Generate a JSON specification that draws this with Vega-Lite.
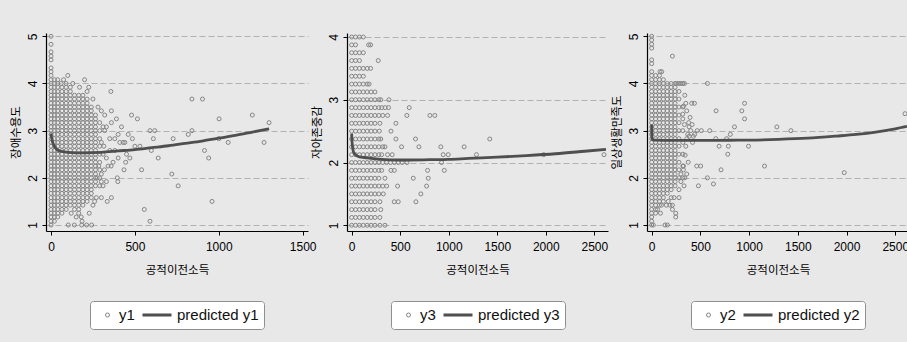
{
"$schema": "https://vega.github.io/schema/vega-lite/v6.json",
"background": "#e8e8e8",
"padding": {"left": 10, "top": 32, "right": 0, "bottom": 12},
"autosize": {"type": "pad"},
"spacing": 39,
"bounds": "flush",
"datasets": {
"a": [
{"x":0,"y":1},{"x":0,"y":1.08},{"x":0,"y":1.17},{"x":0,"y":1.25},{"x":0,"y":1.33},{"x":0,"y":1.42},{"x":0,"y":1.5},{"x":0,"y":1.58},{"x":0,"y":1.67},{"x":0,"y":1.75},{"x":0,"y":1.83},{"x":0,"y":1.92},{"x":0,"y":2},{"x":0,"y":2.08},{"x":0,"y":2.17},{"x":0,"y":2.25},{"x":0,"y":2.33},{"x":0,"y":2.42},{"x":0,"y":2.5},{"x":0,"y":2.58},{"x":0,"y":2.67},{"x":0,"y":2.75},{"x":0,"y":2.83},{"x":0,"y":2.92},{"x":0,"y":3},{"x":0,"y":3.08},{"x":0,"y":3.17},{"x":0,"y":3.25},{"x":0,"y":3.33},{"x":0,"y":3.42},{"x":0,"y":3.5},{"x":0,"y":3.58},{"x":0,"y":3.67},{"x":0,"y":3.75},{"x":0,"y":3.83},{"x":0,"y":3.92},{"x":0,"y":4},{"x":0,"y":4.08},{"x":0,"y":4.17},{"x":0,"y":4.25},{"x":0,"y":4.33},{"x":0,"y":4.5},{"x":0,"y":4.58},{"x":0,"y":4.67},{"x":0,"y":4.83},{"x":0,"y":5},
{"x":20,"y":1.08},{"x":20,"y":1.17},{"x":20,"y":1.25},{"x":20,"y":1.33},{"x":20,"y":1.42},{"x":20,"y":1.5},{"x":20,"y":1.58},{"x":20,"y":1.67},{"x":20,"y":1.75},{"x":20,"y":1.83},{"x":20,"y":1.92},{"x":20,"y":2},{"x":20,"y":2.08},{"x":20,"y":2.17},{"x":20,"y":2.25},{"x":20,"y":2.33},{"x":20,"y":2.42},{"x":20,"y":2.5},{"x":20,"y":2.58},{"x":20,"y":2.67},{"x":20,"y":2.75},{"x":20,"y":2.83},{"x":20,"y":2.92},{"x":20,"y":3},{"x":20,"y":3.08},{"x":20,"y":3.17},{"x":20,"y":3.25},{"x":20,"y":3.33},{"x":20,"y":3.42},{"x":20,"y":3.5},{"x":20,"y":3.58},{"x":20,"y":3.67},{"x":20,"y":3.75},{"x":20,"y":3.83},{"x":20,"y":3.92},{"x":20,"y":4},{"x":20,"y":4.08},
{"x":40,"y":1.17},{"x":40,"y":1.25},{"x":40,"y":1.33},{"x":40,"y":1.42},{"x":40,"y":1.5},{"x":40,"y":1.58},{"x":40,"y":1.67},{"x":40,"y":1.75},{"x":40,"y":1.83},{"x":40,"y":1.92},{"x":40,"y":2},{"x":40,"y":2.08},{"x":40,"y":2.17},{"x":40,"y":2.25},{"x":40,"y":2.33},{"x":40,"y":2.42},{"x":40,"y":2.5},{"x":40,"y":2.58},{"x":40,"y":2.67},{"x":40,"y":2.75},{"x":40,"y":2.83},{"x":40,"y":2.92},{"x":40,"y":3},{"x":40,"y":3.08},{"x":40,"y":3.17},{"x":40,"y":3.25},{"x":40,"y":3.33},{"x":40,"y":3.42},{"x":40,"y":3.5},{"x":40,"y":3.58},{"x":40,"y":3.67},{"x":40,"y":3.75},{"x":40,"y":3.83},{"x":40,"y":3.92},{"x":40,"y":4},{"x":40,"y":4.08},
{"x":65,"y":1.25},{"x":65,"y":1.33},{"x":65,"y":1.42},{"x":65,"y":1.5},{"x":65,"y":1.58},{"x":65,"y":1.67},{"x":65,"y":1.75},{"x":65,"y":1.83},{"x":65,"y":1.92},{"x":65,"y":2},{"x":65,"y":2.08},{"x":65,"y":2.17},{"x":65,"y":2.25},{"x":65,"y":2.33},{"x":65,"y":2.42},{"x":65,"y":2.5},{"x":65,"y":2.58},{"x":65,"y":2.67},{"x":65,"y":2.75},{"x":65,"y":2.83},{"x":65,"y":2.92},{"x":65,"y":3},{"x":65,"y":3.08},{"x":65,"y":3.17},{"x":65,"y":3.25},{"x":65,"y":3.33},{"x":65,"y":3.42},{"x":65,"y":3.5},{"x":65,"y":3.58},{"x":65,"y":3.67},{"x":65,"y":3.75},{"x":65,"y":3.83},{"x":65,"y":3.92},
{"x":90,"y":1.33},{"x":90,"y":1.42},{"x":90,"y":1.5},{"x":90,"y":1.58},{"x":90,"y":1.67},{"x":90,"y":1.75},{"x":90,"y":1.83},{"x":90,"y":1.92},{"x":90,"y":2},{"x":90,"y":2.08},{"x":90,"y":2.17},{"x":90,"y":2.25},{"x":90,"y":2.33},{"x":90,"y":2.42},{"x":90,"y":2.5},{"x":90,"y":2.58},{"x":90,"y":2.67},{"x":90,"y":2.75},{"x":90,"y":2.83},{"x":90,"y":2.92},{"x":90,"y":3},{"x":90,"y":3.08},{"x":90,"y":3.17},{"x":90,"y":3.25},{"x":90,"y":3.33},{"x":90,"y":3.42},{"x":90,"y":3.5},{"x":90,"y":3.58},{"x":90,"y":3.67},{"x":90,"y":3.75},{"x":90,"y":3.83},{"x":90,"y":3.92},{"x":90,"y":4},
{"x":115,"y":1.42},{"x":115,"y":1.5},{"x":115,"y":1.58},{"x":115,"y":1.67},{"x":115,"y":1.75},{"x":115,"y":1.83},{"x":115,"y":1.92},{"x":115,"y":2},{"x":115,"y":2.08},{"x":115,"y":2.17},{"x":115,"y":2.25},{"x":115,"y":2.33},{"x":115,"y":2.42},{"x":115,"y":2.5},{"x":115,"y":2.58},{"x":115,"y":2.67},{"x":115,"y":2.75},{"x":115,"y":2.83},{"x":115,"y":2.92},{"x":115,"y":3},{"x":115,"y":3.08},{"x":115,"y":3.17},{"x":115,"y":3.25},{"x":115,"y":3.33},{"x":115,"y":3.42},{"x":115,"y":3.5},{"x":115,"y":3.58},{"x":115,"y":3.67},{"x":115,"y":3.75},{"x":115,"y":3.83},{"x":115,"y":3.92},
{"x":140,"y":1.33},{"x":140,"y":1.42},{"x":140,"y":1.5},{"x":140,"y":1.58},{"x":140,"y":1.67},{"x":140,"y":1.75},{"x":140,"y":1.83},{"x":140,"y":1.92},{"x":140,"y":2},{"x":140,"y":2.08},{"x":140,"y":2.17},{"x":140,"y":2.25},{"x":140,"y":2.33},{"x":140,"y":2.42},{"x":140,"y":2.5},{"x":140,"y":2.58},{"x":140,"y":2.67},{"x":140,"y":2.75},{"x":140,"y":2.83},{"x":140,"y":2.92},{"x":140,"y":3},{"x":140,"y":3.08},{"x":140,"y":3.17},{"x":140,"y":3.25},{"x":140,"y":3.33},{"x":140,"y":3.42},{"x":140,"y":3.5},{"x":140,"y":3.58},{"x":140,"y":3.67},{"x":140,"y":3.75},
{"x":165,"y":1.25},{"x":165,"y":1.33},{"x":165,"y":1.42},{"x":165,"y":1.5},{"x":165,"y":1.58},{"x":165,"y":1.67},{"x":165,"y":1.75},{"x":165,"y":1.83},{"x":165,"y":1.92},{"x":165,"y":2},{"x":165,"y":2.08},{"x":165,"y":2.17},{"x":165,"y":2.25},{"x":165,"y":2.33},{"x":165,"y":2.42},{"x":165,"y":2.5},{"x":165,"y":2.58},{"x":165,"y":2.67},{"x":165,"y":2.75},{"x":165,"y":2.83},{"x":165,"y":2.92},{"x":165,"y":3},{"x":165,"y":3.08},{"x":165,"y":3.17},{"x":165,"y":3.25},{"x":165,"y":3.33},{"x":165,"y":3.42},{"x":165,"y":3.5},{"x":165,"y":3.58},{"x":165,"y":3.67},{"x":165,"y":3.75},
{"x":190,"y":1.42},{"x":190,"y":1.5},{"x":190,"y":1.58},{"x":190,"y":1.67},{"x":190,"y":1.75},{"x":190,"y":1.83},{"x":190,"y":1.92},{"x":190,"y":2},{"x":190,"y":2.08},{"x":190,"y":2.17},{"x":190,"y":2.25},{"x":190,"y":2.33},{"x":190,"y":2.42},{"x":190,"y":2.5},{"x":190,"y":2.58},{"x":190,"y":2.67},{"x":190,"y":2.75},{"x":190,"y":2.83},{"x":190,"y":2.92},{"x":190,"y":3},{"x":190,"y":3.08},{"x":190,"y":3.17},{"x":190,"y":3.25},{"x":190,"y":3.33},{"x":190,"y":3.42},{"x":190,"y":3.5},{"x":190,"y":3.58},{"x":190,"y":3.67},{"x":190,"y":3.75},
{"x":215,"y":1.5},{"x":215,"y":1.58},{"x":215,"y":1.67},{"x":215,"y":1.75},{"x":215,"y":1.83},{"x":215,"y":1.92},{"x":215,"y":2},{"x":215,"y":2.08},{"x":215,"y":2.17},{"x":215,"y":2.25},{"x":215,"y":2.33},{"x":215,"y":2.42},{"x":215,"y":2.5},{"x":215,"y":2.58},{"x":215,"y":2.67},{"x":215,"y":2.75},{"x":215,"y":2.83},{"x":215,"y":2.92},{"x":215,"y":3},{"x":215,"y":3.08},{"x":215,"y":3.17},{"x":215,"y":3.25},{"x":215,"y":3.33},{"x":215,"y":3.42},{"x":215,"y":3.5},{"x":215,"y":3.58},{"x":215,"y":3.67},
{"x":240,"y":1.58},{"x":240,"y":1.67},{"x":240,"y":1.75},{"x":240,"y":1.83},{"x":240,"y":1.92},{"x":240,"y":2},{"x":240,"y":2.08},{"x":240,"y":2.17},{"x":240,"y":2.25},{"x":240,"y":2.33},{"x":240,"y":2.42},{"x":240,"y":2.5},{"x":240,"y":2.58},{"x":240,"y":2.67},{"x":240,"y":2.75},{"x":240,"y":2.83},{"x":240,"y":2.92},{"x":240,"y":3},{"x":240,"y":3.08},{"x":240,"y":3.17},{"x":240,"y":3.25},{"x":240,"y":3.33},{"x":240,"y":3.42},{"x":240,"y":3.5},
{"x":265,"y":1.83},{"x":265,"y":1.92},{"x":265,"y":2},{"x":265,"y":2.08},{"x":265,"y":2.17},{"x":265,"y":2.25},{"x":265,"y":2.33},{"x":265,"y":2.42},{"x":265,"y":2.5},{"x":265,"y":2.58},{"x":265,"y":2.67},{"x":265,"y":2.75},{"x":265,"y":2.83},{"x":265,"y":2.92},{"x":265,"y":3},{"x":265,"y":3.08},{"x":265,"y":3.17},{"x":265,"y":3.25},{"x":265,"y":3.33},
{"x":290,"y":1.83},{"x":290,"y":2},{"x":290,"y":2.17},{"x":290,"y":2.33},{"x":290,"y":2.5},{"x":290,"y":2.67},{"x":290,"y":2.83},{"x":290,"y":3},{"x":290,"y":3.17},
{"x":100,"y":4.17},{"x":200,"y":4.08},{"x":225,"y":3.92},{"x":357,"y":3.83},{"x":840,"y":3.67},{"x":903,"y":3.67},{"x":480,"y":3.33},{"x":515,"y":3.25},{"x":360,"y":3.42},{"x":360,"y":3.17},{"x":390,"y":3.25},{"x":1002,"y":3.25},{"x":1200,"y":3.33},{"x":1300,"y":3.17},{"x":1270,"y":2.75},{"x":1056,"y":2.75},{"x":1000,"y":2.83},{"x":915,"y":2.58},{"x":940,"y":2.42},{"x":960,"y":1.5},{"x":840,"y":3},{"x":818,"y":2.92},{"x":728,"y":2.83},{"x":720,"y":2.08},{"x":758,"y":1.83},{"x":556,"y":1.33},{"x":590,"y":1.08},{"x":590,"y":3},{"x":618,"y":3},{"x":610,"y":2.83},{"x":639,"y":2.42},{"x":598,"y":2.58},{"x":540,"y":2.17},{"x":500,"y":2.67},{"x":530,"y":2.67},{"x":460,"y":2.92},{"x":485,"y":2.83},{"x":450,"y":2.5},{"x":445,"y":2.33},{"x":435,"y":2.17},{"x":395,"y":2},{"x":398,"y":1.92},{"x":360,"y":1.58},{"x":335,"y":1.5},{"x":300,"y":1.58},{"x":228,"y":1.25},{"x":103,"y":1},{"x":139,"y":1},{"x":183,"y":1},{"x":212,"y":1},{"x":242,"y":1},{"x":180,"y":1.17},{"x":185,"y":1.08},{"x":358,"y":2.25},{"x":318,"y":2.17},{"x":310,"y":3.08},{"x":320,"y":3},{"x":350,"y":2.83},{"x":380,"y":2.83},{"x":410,"y":2.75},{"x":430,"y":2.75},{"x":380,"y":2.58},{"x":330,"y":2.42},{"x":315,"y":2.67},{"x":400,"y":2.92},{"x":420,"y":3.08},{"x":340,"y":2.25},{"x":300,"y":2.08},{"x":330,"y":1.92},{"x":310,"y":1.83},{"x":270,"y":1.58},{"x":260,"y":1.5},{"x":250,"y":1.42},{"x":150,"y":1.17},{"x":120,"y":1.25},{"x":280,"y":3.5},{"x":300,"y":3.42},{"x":320,"y":3.33},{"x":250,"y":3.67},{"x":215,"y":3.83},{"x":170,"y":3.92},{"x":130,"y":4},{"x":75,"y":4.08},{"x":60,"y":4},{"x":400,"y":2.42},{"x":350,"y":2.58},{"x":440,"y":2.75},{"x":370,"y":2.33},{"x":470,"y":2.42},{"x":330,"y":3.08},{"x":300,"y":2.75},{"x":310,"y":2.5},{"x":285,"y":2.25},{"x":275,"y":2},{"x":300,"y":1.92}
],
"b": [
{"x":0,"y":1},{"x":40,"y":1},{"x":80,"y":1},{"x":120,"y":1},{"x":160,"y":1},{"x":200,"y":1},{"x":240,"y":1},{"x":291,"y":1},{"x":343,"y":1},
{"x":0,"y":1.125},{"x":40,"y":1.125},{"x":80,"y":1.125},{"x":120,"y":1.125},{"x":160,"y":1.125},{"x":200,"y":1.125},{"x":240,"y":1.125},{"x":291,"y":1.125},
{"x":0,"y":1.25},{"x":40,"y":1.25},{"x":80,"y":1.25},{"x":120,"y":1.25},{"x":160,"y":1.25},{"x":200,"y":1.25},{"x":240,"y":1.25},{"x":300,"y":1.25},
{"x":0,"y":1.375},{"x":40,"y":1.375},{"x":80,"y":1.375},{"x":120,"y":1.375},{"x":160,"y":1.375},{"x":200,"y":1.375},{"x":240,"y":1.375},{"x":291,"y":1.375},{"x":439,"y":1.375},{"x":480,"y":1.375},{"x":662,"y":1.375},
{"x":0,"y":1.5},{"x":40,"y":1.5},{"x":80,"y":1.5},{"x":120,"y":1.5},{"x":160,"y":1.5},{"x":200,"y":1.5},{"x":240,"y":1.5},{"x":280,"y":1.5},{"x":326,"y":1.5},{"x":713,"y":1.5},
{"x":0,"y":1.625},{"x":40,"y":1.625},{"x":80,"y":1.625},{"x":120,"y":1.625},{"x":160,"y":1.625},{"x":200,"y":1.625},{"x":240,"y":1.625},{"x":280,"y":1.625},{"x":320,"y":1.625},{"x":360,"y":1.625},{"x":473,"y":1.625},{"x":772,"y":1.625},
{"x":0,"y":1.75},{"x":40,"y":1.75},{"x":80,"y":1.75},{"x":120,"y":1.75},{"x":160,"y":1.75},{"x":200,"y":1.75},{"x":240,"y":1.75},{"x":280,"y":1.75},{"x":343,"y":1.75},{"x":635,"y":1.75},{"x":789,"y":1.75},
{"x":0,"y":1.875},{"x":40,"y":1.875},{"x":80,"y":1.875},{"x":120,"y":1.875},{"x":160,"y":1.875},{"x":200,"y":1.875},{"x":240,"y":1.875},{"x":280,"y":1.875},{"x":309,"y":1.875},{"x":405,"y":1.875},{"x":439,"y":1.875},{"x":782,"y":1.875},{"x":954,"y":1.875},
{"x":0,"y":2},{"x":40,"y":2},{"x":80,"y":2},{"x":120,"y":2},{"x":160,"y":2},{"x":200,"y":2},{"x":240,"y":2},{"x":280,"y":2},{"x":320,"y":2},{"x":360,"y":2},{"x":400,"y":2},{"x":440,"y":2},{"x":480,"y":2},{"x":520,"y":2},{"x":570,"y":2},{"x":926,"y":2},
{"x":0,"y":2.125},{"x":40,"y":2.125},{"x":80,"y":2.125},{"x":120,"y":2.125},{"x":160,"y":2.125},{"x":200,"y":2.125},{"x":240,"y":2.125},{"x":280,"y":2.125},{"x":309,"y":2.125},{"x":370,"y":2.125},{"x":418,"y":2.125},{"x":943,"y":2.125},{"x":995,"y":2.125},{"x":1286,"y":2.125},{"x":1978,"y":2.125},{"x":2600,"y":2.125},
{"x":0,"y":2.25},{"x":40,"y":2.25},{"x":80,"y":2.25},{"x":120,"y":2.25},{"x":160,"y":2.25},{"x":200,"y":2.25},{"x":240,"y":2.25},{"x":280,"y":2.25},{"x":320,"y":2.25},{"x":343,"y":2.25},{"x":514,"y":2.25},{"x":693,"y":2.25},{"x":919,"y":2.25},{"x":1159,"y":2.25},
{"x":0,"y":2.375},{"x":40,"y":2.375},{"x":80,"y":2.375},{"x":120,"y":2.375},{"x":160,"y":2.375},{"x":200,"y":2.375},{"x":240,"y":2.375},{"x":280,"y":2.375},{"x":300,"y":2.375},{"x":456,"y":2.375},{"x":658,"y":2.375},{"x":1423,"y":2.375},
{"x":0,"y":2.5},{"x":40,"y":2.5},{"x":80,"y":2.5},{"x":120,"y":2.5},{"x":160,"y":2.5},{"x":200,"y":2.5},{"x":240,"y":2.5},{"x":285,"y":2.5},{"x":405,"y":2.5},
{"x":0,"y":2.625},{"x":40,"y":2.625},{"x":80,"y":2.625},{"x":120,"y":2.625},{"x":160,"y":2.625},{"x":200,"y":2.625},{"x":240,"y":2.625},{"x":291,"y":2.625},{"x":456,"y":2.625},
{"x":0,"y":2.75},{"x":40,"y":2.75},{"x":80,"y":2.75},{"x":120,"y":2.75},{"x":160,"y":2.75},{"x":200,"y":2.75},{"x":240,"y":2.75},{"x":280,"y":2.75},{"x":320,"y":2.75},{"x":370,"y":2.75},{"x":569,"y":2.75},{"x":806,"y":2.75},{"x":857,"y":2.75},
{"x":0,"y":2.875},{"x":40,"y":2.875},{"x":80,"y":2.875},{"x":120,"y":2.875},{"x":160,"y":2.875},{"x":200,"y":2.875},{"x":240,"y":2.875},{"x":280,"y":2.875},{"x":310,"y":2.875},{"x":345,"y":2.875},{"x":380,"y":2.875},{"x":593,"y":2.875},
{"x":0,"y":3},{"x":40,"y":3},{"x":80,"y":3},{"x":120,"y":3},{"x":160,"y":3},{"x":200,"y":3},{"x":240,"y":3},{"x":280,"y":3},{"x":300,"y":3},{"x":384,"y":3},
{"x":0,"y":3.125},{"x":40,"y":3.125},{"x":80,"y":3.125},{"x":120,"y":3.125},{"x":160,"y":3.125},{"x":200,"y":3.125},{"x":240,"y":3.125},
{"x":0,"y":3.25},{"x":40,"y":3.25},{"x":80,"y":3.25},{"x":120,"y":3.25},{"x":160,"y":3.25},{"x":180,"y":3.25},
{"x":0,"y":3.375},{"x":40,"y":3.375},{"x":80,"y":3.375},{"x":120,"y":3.375},
{"x":0,"y":3.5},{"x":40,"y":3.5},{"x":80,"y":3.5},{"x":120,"y":3.5},{"x":160,"y":3.5},{"x":195,"y":3.5},
{"x":0,"y":3.625},{"x":40,"y":3.625},{"x":80,"y":3.625},{"x":274,"y":3.625},
{"x":0,"y":3.75},{"x":40,"y":3.75},{"x":80,"y":3.75},{"x":120,"y":3.75},
{"x":0,"y":3.875},{"x":40,"y":3.875},{"x":175,"y":3.875},{"x":195,"y":3.875},
{"x":0,"y":4},{"x":40,"y":4},{"x":80,"y":4},{"x":120,"y":4}
],
"c": [
{"x":0,"y":1},{"x":0,"y":1.08},{"x":0,"y":1.17},{"x":0,"y":1.25},{"x":0,"y":1.33},{"x":0,"y":1.42},{"x":0,"y":1.5},{"x":0,"y":1.58},{"x":0,"y":1.67},{"x":0,"y":1.75},{"x":0,"y":1.83},{"x":0,"y":1.92},{"x":0,"y":2},{"x":0,"y":2.08},{"x":0,"y":2.17},{"x":0,"y":2.25},{"x":0,"y":2.33},{"x":0,"y":2.42},{"x":0,"y":2.5},{"x":0,"y":2.58},{"x":0,"y":2.67},{"x":0,"y":2.75},{"x":0,"y":2.83},{"x":0,"y":2.92},{"x":0,"y":3},{"x":0,"y":3.08},{"x":0,"y":3.17},{"x":0,"y":3.25},{"x":0,"y":3.33},{"x":0,"y":3.42},{"x":0,"y":3.5},{"x":0,"y":3.58},{"x":0,"y":3.67},{"x":0,"y":3.75},{"x":0,"y":3.83},{"x":0,"y":3.92},{"x":0,"y":4},{"x":0,"y":4.08},{"x":0,"y":4.17},{"x":0,"y":4.25},{"x":0,"y":4.42},{"x":0,"y":4.5},{"x":0,"y":4.75},{"x":0,"y":4.83},{"x":0,"y":4.92},{"x":0,"y":5},
{"x":40,"y":1.25},{"x":40,"y":1.33},{"x":40,"y":1.42},{"x":40,"y":1.5},{"x":40,"y":1.58},{"x":40,"y":1.67},{"x":40,"y":1.75},{"x":40,"y":1.83},{"x":40,"y":1.92},{"x":40,"y":2},{"x":40,"y":2.08},{"x":40,"y":2.17},{"x":40,"y":2.25},{"x":40,"y":2.33},{"x":40,"y":2.42},{"x":40,"y":2.5},{"x":40,"y":2.58},{"x":40,"y":2.67},{"x":40,"y":2.75},{"x":40,"y":2.83},{"x":40,"y":2.92},{"x":40,"y":3},{"x":40,"y":3.08},{"x":40,"y":3.17},{"x":40,"y":3.25},{"x":40,"y":3.33},{"x":40,"y":3.42},{"x":40,"y":3.5},{"x":40,"y":3.58},{"x":40,"y":3.67},{"x":40,"y":3.75},{"x":40,"y":3.83},{"x":40,"y":3.92},{"x":40,"y":4},{"x":40,"y":4.08},{"x":40,"y":4.17},
{"x":80,"y":1.42},{"x":80,"y":1.5},{"x":80,"y":1.58},{"x":80,"y":1.67},{"x":80,"y":1.75},{"x":80,"y":1.83},{"x":80,"y":1.92},{"x":80,"y":2},{"x":80,"y":2.08},{"x":80,"y":2.17},{"x":80,"y":2.25},{"x":80,"y":2.33},{"x":80,"y":2.42},{"x":80,"y":2.5},{"x":80,"y":2.58},{"x":80,"y":2.67},{"x":80,"y":2.75},{"x":80,"y":2.83},{"x":80,"y":2.92},{"x":80,"y":3},{"x":80,"y":3.08},{"x":80,"y":3.17},{"x":80,"y":3.25},{"x":80,"y":3.33},{"x":80,"y":3.42},{"x":80,"y":3.5},{"x":80,"y":3.58},{"x":80,"y":3.67},{"x":80,"y":3.75},{"x":80,"y":3.83},{"x":80,"y":3.92},{"x":80,"y":4},{"x":80,"y":4.08},{"x":80,"y":4.17},
{"x":120,"y":1.58},{"x":120,"y":1.67},{"x":120,"y":1.75},{"x":120,"y":1.83},{"x":120,"y":1.92},{"x":120,"y":2},{"x":120,"y":2.08},{"x":120,"y":2.17},{"x":120,"y":2.25},{"x":120,"y":2.33},{"x":120,"y":2.42},{"x":120,"y":2.5},{"x":120,"y":2.58},{"x":120,"y":2.67},{"x":120,"y":2.75},{"x":120,"y":2.83},{"x":120,"y":2.92},{"x":120,"y":3},{"x":120,"y":3.08},{"x":120,"y":3.17},{"x":120,"y":3.25},{"x":120,"y":3.33},{"x":120,"y":3.42},{"x":120,"y":3.5},{"x":120,"y":3.58},{"x":120,"y":3.67},{"x":120,"y":3.75},{"x":120,"y":3.83},{"x":120,"y":3.92},{"x":120,"y":4},{"x":120,"y":4.08},
{"x":160,"y":1.67},{"x":160,"y":1.75},{"x":160,"y":1.83},{"x":160,"y":1.92},{"x":160,"y":2},{"x":160,"y":2.08},{"x":160,"y":2.17},{"x":160,"y":2.25},{"x":160,"y":2.33},{"x":160,"y":2.42},{"x":160,"y":2.5},{"x":160,"y":2.58},{"x":160,"y":2.67},{"x":160,"y":2.75},{"x":160,"y":2.83},{"x":160,"y":2.92},{"x":160,"y":3},{"x":160,"y":3.08},{"x":160,"y":3.17},{"x":160,"y":3.25},{"x":160,"y":3.33},{"x":160,"y":3.42},{"x":160,"y":3.5},{"x":160,"y":3.58},{"x":160,"y":3.67},{"x":160,"y":3.75},{"x":160,"y":3.83},{"x":160,"y":3.92},{"x":160,"y":4},
{"x":200,"y":1.75},{"x":200,"y":1.83},{"x":200,"y":1.92},{"x":200,"y":2},{"x":200,"y":2.08},{"x":200,"y":2.17},{"x":200,"y":2.25},{"x":200,"y":2.33},{"x":200,"y":2.42},{"x":200,"y":2.5},{"x":200,"y":2.58},{"x":200,"y":2.67},{"x":200,"y":2.75},{"x":200,"y":2.83},{"x":200,"y":2.92},{"x":200,"y":3},{"x":200,"y":3.08},{"x":200,"y":3.17},{"x":200,"y":3.25},{"x":200,"y":3.33},{"x":200,"y":3.42},{"x":200,"y":3.5},{"x":200,"y":3.58},{"x":200,"y":3.67},{"x":200,"y":3.75},{"x":200,"y":3.83},{"x":200,"y":3.92},{"x":200,"y":4},
{"x":240,"y":1.83},{"x":240,"y":1.92},{"x":240,"y":2},{"x":240,"y":2.08},{"x":240,"y":2.17},{"x":240,"y":2.25},{"x":240,"y":2.33},{"x":240,"y":2.42},{"x":240,"y":2.5},{"x":240,"y":2.58},{"x":240,"y":2.67},{"x":240,"y":2.75},{"x":240,"y":2.83},{"x":240,"y":2.92},{"x":240,"y":3},{"x":240,"y":3.08},{"x":240,"y":3.17},{"x":240,"y":3.25},{"x":240,"y":3.33},{"x":240,"y":3.42},{"x":240,"y":3.5},{"x":240,"y":3.58},{"x":240,"y":3.67},{"x":240,"y":3.75},{"x":240,"y":3.83},{"x":240,"y":3.92},{"x":240,"y":4},
{"x":280,"y":2},{"x":280,"y":2.17},{"x":280,"y":2.33},{"x":280,"y":2.5},{"x":280,"y":2.67},{"x":280,"y":2.83},{"x":280,"y":3},{"x":280,"y":3.17},{"x":280,"y":3.33},{"x":280,"y":3.5},{"x":280,"y":3.67},{"x":280,"y":3.83},{"x":280,"y":4},
{"x":320,"y":2},{"x":320,"y":2.25},{"x":320,"y":2.5},{"x":320,"y":2.75},{"x":320,"y":3},{"x":320,"y":3.25},{"x":320,"y":3.5},{"x":320,"y":4},
{"x":103,"y":4.25},{"x":85,"y":4.25},{"x":213,"y":4.58},{"x":572,"y":4},{"x":411,"y":3.58},{"x":439,"y":3.58},{"x":953,"y":3.58},{"x":953,"y":3.25},{"x":925,"y":3.42},{"x":661,"y":3.42},{"x":850,"y":3.08},{"x":1285,"y":3.08},{"x":1429,"y":3},{"x":2600,"y":3.36},{"x":1976,"y":2.11},{"x":1158,"y":2.25},{"x":994,"y":2.67},{"x":787,"y":2.67},{"x":807,"y":2.92},{"x":781,"y":2.5},{"x":712,"y":2.17},{"x":634,"y":1.87},{"x":480,"y":1.83},{"x":572,"y":2},{"x":462,"y":2.25},{"x":503,"y":2.25},{"x":658,"y":2.83},{"x":692,"y":2.67},{"x":596,"y":3},{"x":467,"y":3},{"x":510,"y":3},{"x":770,"y":2.83},{"x":332,"y":1.83},{"x":281,"y":1.58},{"x":247,"y":1.25},{"x":247,"y":1.17},{"x":137,"y":1},{"x":161,"y":1},{"x":213,"y":1.33},{"x":213,"y":1.42},{"x":188,"y":1.42},{"x":170,"y":1.5},{"x":150,"y":1.42},{"x":120,"y":1.5},{"x":100,"y":1.42},{"x":60,"y":1.33},{"x":90,"y":1.25},{"x":230,"y":1.58},{"x":200,"y":1.58},{"x":17,"y":1},{"x":326,"y":3.52},{"x":319,"y":3.35},{"x":394,"y":3.28},{"x":336,"y":3.13},{"x":384,"y":3.08},{"x":415,"y":3.13},{"x":428,"y":2.88},{"x":384,"y":2.88},{"x":343,"y":2.48},{"x":326,"y":2.25},{"x":326,"y":2.17},{"x":360,"y":3.42},{"x":400,"y":3},{"x":350,"y":2.67},{"x":370,"y":2.92},{"x":340,"y":3.75},{"x":360,"y":2.08},{"x":300,"y":1.92},{"x":280,"y":1.75},{"x":300,"y":4},{"x":336,"y":4},{"x":255,"y":4},{"x":360,"y":2.83},{"x":420,"y":2.75},{"x":380,"y":3.17},{"x":440,"y":2.92},{"x":350,"y":3.58},{"x":375,"y":2.33},{"x":340,"y":2},{"x":300,"y":2.08}
],
"f1": [{"x":0,"y":2.94},{"x":3,"y":2.86},{"x":7,"y":2.79},{"x":12,"y":2.73},{"x":20,"y":2.67},{"x":30,"y":2.62},{"x":44,"y":2.58},{"x":70,"y":2.555},{"x":100,"y":2.54},{"x":150,"y":2.53},{"x":200,"y":2.53},{"x":300,"y":2.54},{"x":400,"y":2.57},{"x":500,"y":2.6},{"x":600,"y":2.64},{"x":700,"y":2.68},{"x":800,"y":2.73},{"x":900,"y":2.78},{"x":1000,"y":2.84},{"x":1100,"y":2.9},{"x":1200,"y":2.97},{"x":1300,"y":3.04}],
"f2": [{"x":0,"y":2.46},{"x":2,"y":2.38},{"x":5,"y":2.31},{"x":10,"y":2.24},{"x":17,"y":2.18},{"x":30,"y":2.14},{"x":50,"y":2.11},{"x":80,"y":2.09},{"x":130,"y":2.08},{"x":200,"y":2.065},{"x":300,"y":2.05},{"x":500,"y":2.04},{"x":800,"y":2.045},{"x":1000,"y":2.05},{"x":1200,"y":2.065},{"x":1500,"y":2.085},{"x":1800,"y":2.11},{"x":2100,"y":2.14},{"x":2400,"y":2.18},{"x":2620,"y":2.21}],
"f3": [{"x":0,"y":3.13},{"x":1,"y":2.95},{"x":2,"y":2.86},{"x":5,"y":2.82},{"x":15,"y":2.805},{"x":50,"y":2.8},{"x":200,"y":2.795},{"x":500,"y":2.795},{"x":800,"y":2.797},{"x":1000,"y":2.8},{"x":1300,"y":2.815},{"x":1600,"y":2.84},{"x":1900,"y":2.885},{"x":2100,"y":2.92},{"x":2300,"y":2.97},{"x":2500,"y":3.04},{"x":2620,"y":3.09}]
},
"hconcat": [
{
"width": 262, "height": 198,
"layer": [
{"data": {"name": "a"}, "mark": {"type": "point", "filled": false, "opacity": 1, "clip": true},
 "encoding": {
  "x": {"field": "x", "type": "quantitative", "scale": {"domain": [-30, 1532], "nice": false, "zero": false}, "axis": {"values": [0, 500, 1000, 1500], "format": "d", "title": "공적이전소득"}},
  "y": {"field": "y", "type": "quantitative", "scale": {"domain": [0.873, 5.07], "nice": false, "zero": false}, "axis": {"values": [1, 2, 3, 4, 5], "format": "d", "title": "장애수용도"}},
  "color": {"datum": "y1", "type": "nominal", "scale": {"domain": ["y1", "predicted y1"], "range": ["#858585", "#4f4f4f"]},
   "legend": {"orient": "bottom", "direction": "horizontal", "title": " ", "titleOrient": "left", "titlePadding": 5, "titleFontSize": 12, "offset": 25, "padding": 5, "fillColor": "#ffffff", "strokeColor": "#8f8f8f", "cornerRadius": 3, "labelFont": "Liberation Sans", "labelFontSize": 15, "labelColor": "#111111", "columnPadding": 6, "labelOffset": 4, "clipHeight": 18}},
  "shape": {"datum": "y1", "type": "nominal", "scale": {"domain": ["y1", "predicted y1"], "range": ["circle", "stroke"]}},
  "size": {"datum": "y1", "type": "nominal", "scale": {"type": "ordinal", "domain": ["y1", "predicted y1"], "range": [16, 841]}},
  "strokeWidth": {"datum": "y1", "type": "nominal", "scale": {"type": "ordinal", "domain": ["y1", "predicted y1"], "range": [1, 2.8]}}
 }},
{"data": {"name": "f1"}, "mark": {"type": "line", "strokeWidth": 2.8, "interpolate": "monotone", "clip": true},
 "encoding": {"x": {"field": "x", "type": "quantitative"}, "y": {"field": "y", "type": "quantitative"}, "color": {"datum": "predicted y1", "type": "nominal"}}}
]
},
{
"width": 261, "height": 198,
"layer": [
{"data": {"name": "b"}, "mark": {"type": "point", "filled": false, "opacity": 1, "clip": true},
 "encoding": {
  "x": {"field": "x", "type": "quantitative", "scale": {"domain": [-48, 2641], "nice": false, "zero": false}, "axis": {"values": [0, 500, 1000, 1500, 2000, 2500], "format": "d", "title": "공적이전소득"}},
  "y": {"field": "y", "type": "quantitative", "scale": {"domain": [0.909, 4.064], "nice": false, "zero": false}, "axis": {"values": [1, 2, 3, 4], "format": "d", "title": "자아존중감"}},
  "color": {"datum": "y3", "type": "nominal", "scale": {"domain": ["y3", "predicted y3"], "range": ["#858585", "#4f4f4f"]},
   "legend": {"orient": "bottom", "direction": "horizontal", "title": " ", "titleOrient": "left", "titlePadding": 5, "titleFontSize": 12, "offset": 25, "padding": 5, "fillColor": "#ffffff", "strokeColor": "#8f8f8f", "cornerRadius": 3, "labelFont": "Liberation Sans", "labelFontSize": 15, "labelColor": "#111111", "columnPadding": 6, "labelOffset": 4, "clipHeight": 18}},
  "shape": {"datum": "y3", "type": "nominal", "scale": {"domain": ["y3", "predicted y3"], "range": ["circle", "stroke"]}},
  "size": {"datum": "y3", "type": "nominal", "scale": {"type": "ordinal", "domain": ["y3", "predicted y3"], "range": [16, 841]}},
  "strokeWidth": {"datum": "y3", "type": "nominal", "scale": {"type": "ordinal", "domain": ["y3", "predicted y3"], "range": [1, 2.8]}}
 }},
{"data": {"name": "f2"}, "mark": {"type": "line", "strokeWidth": 2.8, "interpolate": "monotone", "clip": true},
 "encoding": {"x": {"field": "x", "type": "quantitative"}, "y": {"field": "y", "type": "quantitative"}, "color": {"datum": "predicted y3", "type": "nominal"}}}
]
},
{
"width": 262, "height": 198,
"layer": [
{"data": {"name": "c"}, "mark": {"type": "point", "filled": false, "opacity": 1, "clip": true},
 "encoding": {
  "x": {"field": "x", "type": "quantitative", "scale": {"domain": [-48, 2641], "nice": false, "zero": false}, "axis": {"values": [0, 500, 1000, 1500, 2000, 2500], "format": "d", "title": "공적이전소득"}},
  "y": {"field": "y", "type": "quantitative", "scale": {"domain": [0.873, 5.07], "nice": false, "zero": false}, "axis": {"values": [1, 2, 3, 4, 5], "format": "d", "title": "일상생활만족도"}},
  "color": {"datum": "y2", "type": "nominal", "scale": {"domain": ["y2", "predicted y2"], "range": ["#858585", "#4f4f4f"]},
   "legend": {"orient": "bottom", "direction": "horizontal", "title": " ", "titleOrient": "left", "titlePadding": 5, "titleFontSize": 12, "offset": 25, "padding": 5, "fillColor": "#ffffff", "strokeColor": "#8f8f8f", "cornerRadius": 3, "labelFont": "Liberation Sans", "labelFontSize": 15, "labelColor": "#111111", "columnPadding": 6, "labelOffset": 4, "clipHeight": 18}},
  "shape": {"datum": "y2", "type": "nominal", "scale": {"domain": ["y2", "predicted y2"], "range": ["circle", "stroke"]}},
  "size": {"datum": "y2", "type": "nominal", "scale": {"type": "ordinal", "domain": ["y2", "predicted y2"], "range": [16, 841]}},
  "strokeWidth": {"datum": "y2", "type": "nominal", "scale": {"type": "ordinal", "domain": ["y2", "predicted y2"], "range": [1, 2.8]}}
 }},
{"data": {"name": "f3"}, "mark": {"type": "line", "strokeWidth": 2.8, "interpolate": "monotone", "clip": true},
 "encoding": {"x": {"field": "x", "type": "quantitative"}, "y": {"field": "y", "type": "quantitative"}, "color": {"datum": "predicted y2", "type": "nominal"}}}
]
}
],
"resolve": {"scale": {"color": "independent", "shape": "independent", "size": "independent", "strokeWidth": "independent", "x": "independent", "y": "independent"}, "legend": {"color": "independent", "shape": "independent", "size": "independent", "strokeWidth": "independent"}},
"config": {
 "view": {"stroke": null},
 "axis": {"domainColor": "#000000", "domainWidth": 1.2, "tickColor": "#000000", "tickSize": 4, "tickWidth": 1, "labelFont": "Liberation Sans", "labelFontSize": 12, "labelColor": "#000000", "titleFont": "Noto Sans CJK KR", "titleFontSize": 11.5, "titleFontWeight": "normal", "titleColor": "#000000", "gridColor": "#b2b2b2", "gridDash": [6, 3], "gridWidth": 1},
 "axisX": {"grid": false, "labelPadding": 6, "titlePadding": 12, "labelFlush": false},
 "axisY": {"grid": true, "labelAngle": -90, "labelAlign": "center", "labelBaseline": "bottom", "labelPadding": 3, "titlePadding": 5},
 "legend": {"layout": {"bottom": {"anchor": "middle"}}}
}
}
